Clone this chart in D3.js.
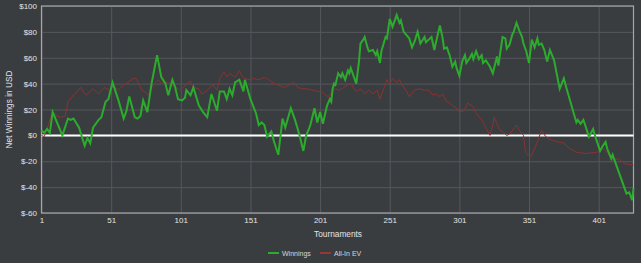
<!DOCTYPE html>
<html>
<head>
<meta charset="UTF-8">
<title>winnings_vs_allin_ev</title>
<style type="text/css">
	html, body { margin: 0; padding: 0; background: rgb(58, 61, 64); }
	svg { display: block; font-family: "Liberation Sans", Arial, sans-serif; }
	.tick text { fill: rgb(228, 228, 228); font-size: 8px; }
	.grid line { stroke: rgb(84, 87, 91); stroke-width: 1; }
	.grid path { display: none; }
	.title { fill: rgb(228, 228, 228); font-size: 8.3px; text-anchor: middle; }
	.legend { fill: rgb(215, 215, 215); font-size: 7px; }
</style>
<script type="text/javascript" src="https://d3js.org/d3.v7.min.js"></script>
</head>
<body>
<div id="div_main"></div>

<script type="text/javascript">

	// tournament numbers / values at the turning points of each line
	var winTournament = [1, 3, 5, 7, 9, 16, 20, 22, 24, 28, 32, 34, 36, 37, 38, 42, 44, 47, 49, 52, 56, 60, 62, 64, 68, 70, 72, 74, 77, 80, 84, 87, 90,
		92, 95, 97, 99, 102, 104, 105, 108, 110, 114, 117, 120, 123, 127, 129, 132, 134, 136, 138, 140, 143, 146, 147, 151, 155, 157, 159, 161, 163, 166,
		168, 171, 174, 176, 180, 183, 186, 189, 191, 193, 194, 197, 199, 201, 203, 206, 208, 209, 210, 211, 212, 214, 216, 217, 219, 221, 222, 223, 225, 227,
		229, 230, 232, 233, 235, 236, 239, 241, 242, 244, 245, 248, 249, 251, 253, 256, 258, 259, 261, 265, 267, 269, 271, 273, 276, 277, 279, 281, 283, 284,
		287, 289, 290, 292, 294, 296, 298, 299, 301, 303, 305, 306, 308, 310, 311, 313, 315, 317, 318, 320, 323, 325, 328, 329, 332, 334, 335, 337, 339, 340,
		342, 344, 346, 347, 349, 351, 353, 355, 357, 358, 360, 362, 364, 366, 369, 373, 376, 378, 385, 386, 388, 390, 391, 394, 397, 398, 402, 404, 406, 407,
		410, 411, 413, 421, 423, 425, 426];
	var winnings = [4, 2, 5, 2, 18, 0, 13, 12, 13, 6, -8, -2, -6, 0, 6, 12, 14, 26, 28, 41, 28, 13, 19, 30, 14, 13, 15, 27, 18, 40, 62, 45, 40,
		31, 43, 37, 28, 27, 29, 35, 31, 37, 23, 18, 14, 32, 19, 34, 34, 28, 36, 31, 41, 43, 34, 43, 28, 17, 8, 10, 8, -1, 3,
		-5, -15, 13, 6, 21, 12, 1, -12, 0, 5, 8, 21, 10, 18, 9, 23, 28, 26, 36, 40, 39, 48, 45, 48, 43, 50, 48, 52, 46, 40,
		58, 71, 74, 76, 68, 65, 66, 62, 65, 56, 65, 76, 75, 90, 84, 93, 87, 89, 80, 75, 68, 73, 80, 71, 76, 72, 74, 76, 66, 71,
		85, 75, 67, 68, 62, 53, 57, 52, 46, 57, 62, 56, 59, 63, 59, 65, 59, 62, 56, 58, 53, 48, 61, 54, 76, 75, 67, 70, 78, 80,
		87, 81, 76, 71, 65, 56, 74, 68, 75, 70, 71, 66, 57, 66, 58, 36, 44, 36, 10, 12, 9, 12, 9, -1, 5, 1, -12, -8, -5, -10,
		-18, -15, -21, -45, -44, -50, -41];

	var evTournament = [1, 3, 9, 12, 15, 18, 20, 23, 25, 29, 33, 36, 38, 42, 44, 46, 50, 53, 56, 60, 63, 67, 69, 73, 76, 78, 80, 83, 85, 87,
		91, 95, 98, 100, 103, 105, 108, 110, 114, 116, 119, 122, 124, 127, 129, 132, 134, 136, 140, 143, 145, 147, 151, 153, 157, 161, 164, 168, 171, 175,
		179, 182, 185, 188, 192, 195, 199, 202, 205, 207, 210, 212, 215, 218, 221, 223, 226, 228, 230, 233, 236, 239, 242, 244, 246, 249, 251, 253, 256, 258,
		260, 263, 265, 269, 272, 276, 279, 282, 284, 287, 289, 292, 294, 296, 299, 301, 304, 307, 311, 313, 317, 320, 323, 325, 326, 328, 330, 332, 335, 337,
		340, 342, 344, 347, 348, 349, 352, 354, 357, 360, 363, 366, 371, 376, 380, 385, 392, 400, 404, 408, 411, 415, 420, 426];
	var allInEV = [0, -1, 18, 15, 14, 15, 26, 30, 32, 37, 31, 34, 36, 32, 35, 37, 35, 38, 35, 39, 41, 44, 44, 35, 33, 31, 37, 41, 43, 40,
		41, 39, 37, 35, 37, 40, 42, 37, 36, 32, 34, 37, 39, 35, 44, 49, 45, 48, 45, 50, 46, 44, 43, 44, 43, 45, 43, 40, 39, 37,
		39, 41, 37, 36, 36, 35, 34, 34, 31, 30, 34, 36, 35, 37, 39, 40, 35, 34, 36, 32, 35, 32, 35, 28, 34, 43, 40, 44, 41, 43,
		39, 34, 30, 35, 36, 35, 35, 31, 32, 30, 32, 26, 25, 23, 21, 18, 19, 25, 22, 17, 12, 6, 0, 8, 14, 9, 4, 3, 0, 1,
		5, 8, 4, 0, -9, -14, -17, -13, -5, 4, -1, -3, -5, -6, -10, -13, -14, -13, -10, -14, -19, -18, -22, -23];

	var xTicks = [1, 51, 101, 151, 201, 251, 301, 351, 401];
	var yTicks = [-60, -40, -20, 0, 20, 40, 60, 80, 100];

	function draw(svg_w, svg_h) {

		var left = 41.5, right = 633.5, top = 6, bottom = 213;

		var scaleX = d3.scaleLinear().domain([1, 426]).range([left, right]);
		var scaleY = d3.scaleLinear().domain([-60, 100]).range([bottom, top]);

		var svg = d3.select("#div_main")
			.append("svg")
				.attr("width", svg_w)
				.attr("height", svg_h);

		svg.append("rect")
			.attr("width", svg_w)
			.attr("height", svg_h)
			.attr("fill", "rgb(58, 61, 64)");

		// grid + tick labels
		svg.append("g")
			.attr("class", "grid")
			.attr("transform", "translate(" + left + ",0)")
			.call(d3.axisLeft(scaleY).tickValues(yTicks).tickSize(-(right - left)).tickPadding(4.5)
				.tickFormat(function (d) { return "$" + d; }));

		svg.append("g")
			.attr("class", "grid")
			.attr("transform", "translate(0," + bottom + ")")
			.call(d3.axisBottom(scaleX).tickValues(xTicks).tickSize(-(bottom - top)).tickPadding(4));

		// frame
		svg.append("rect")
			.attr("x", left)
			.attr("y", top)
			.attr("width", right - left)
			.attr("height", bottom - top)
			.attr("fill", "none")
			.attr("stroke", "rgb(165, 167, 170)")
			.attr("stroke-width", 1.2);

		// zero line
		svg.append("line")
			.attr("x1", left)
			.attr("x2", right)
			.attr("y1", scaleY(0))
			.attr("y2", scaleY(0))
			.attr("stroke", "#ffffff")
			.attr("stroke-width", 2);

		var line = d3.line()
			.x(function (d) { return scaleX(d[0]); })
			.y(function (d) { return scaleY(d[1]); });

		svg.append("path")
			.datum(evTournament.map(function (t, i) { return [t, allInEV[i]]; }))
			.attr("d", line)
			.attr("fill", "none")
			.attr("stroke", "rgb(138, 50, 50)")
			.attr("stroke-width", 1);

		svg.append("path")
			.datum(winTournament.map(function (t, i) { return [t, winnings[i]]; }))
			.attr("d", line)
			.attr("fill", "none")
			.attr("stroke", "rgb(44, 172, 44)")
			.attr("stroke-width", 2);

		// axis titles
		svg.append("text")
			.attr("class", "title")
			.attr("x", (left + right) / 2 + 0.5)
			.attr("y", 236.5)
			.text("Tournaments");

		svg.append("text")
			.attr("class", "title")
			.attr("transform", "translate(11.5," + (top + bottom) / 2 + ") rotate(-90)")
			.text("Net Winnings in USD");

		// legend
		var legend = [
			{ name: "Winnings", color: "rgb(44, 172, 44)", x: 268 },
			{ name: "All-In EV", color: "rgb(150, 55, 55)", x: 320 }
		];

		var lg = svg.selectAll("g.legend-item")
			.data(legend)
			.enter()
			.append("g")
				.attr("class", "legend-item");

		lg.append("line")
			.attr("x1", function (d) { return d.x; })
			.attr("x2", function (d) { return d.x + 11; })
			.attr("y1", 253)
			.attr("y2", 253)
			.attr("stroke", function (d) { return d.color; })
			.attr("stroke-width", 2);

		lg.append("text")
			.attr("class", "legend")
			.attr("x", function (d) { return d.x + 14; })
			.attr("y", 255.5)
			.text(function (d) { return d.name; });
	}

	draw(641, 263);

</script>
</body>
</html>
